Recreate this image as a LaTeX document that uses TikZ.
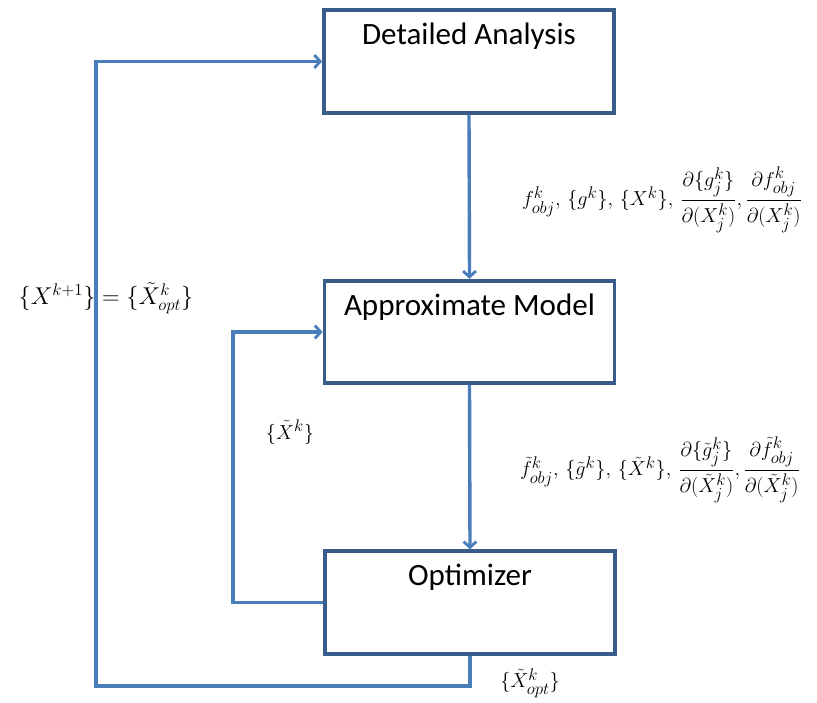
\documentclass[tikz,border=0pt]{standalone}
\usepackage{amsmath,amssymb}
\usepackage{fontspec}
\setmainfont{Carlito}
\usetikzlibrary{arrows.meta}
\definecolor{flowblue}{RGB}{74,126,187}
\definecolor{boxblue}{RGB}{56,93,138}

\begin{document}
\begin{tikzpicture}[x=0.03cm,y=-0.03cm,>={Straight Barb[length=5pt,width=11pt,line width=2.4pt]}]
\tikzset{blk/.style={draw=boxblue,line width=3.2pt,minimum width=8.7cm,minimum height=3.08cm,inner sep=0pt},
  ttl/.style={font=\fontsize{26.5}{30}\selectfont},
  flow/.style={draw=flowblue,line width=2.9pt},
  lab/.style={font=\fontsize{19}{22}\selectfont,align=center}}
\useasboundingbox (0,0) rectangle (817,702);
% blocks
\node[blk,label={[ttl,anchor=north,yshift=-9pt]north:Detailed Analysis}] (da) at (469,61.5) {};
\node[blk,label={[ttl,anchor=north,yshift=-9pt]north:Approximate Model}] (am) at (469.5,332) {};
\node[blk,label={[ttl,anchor=north,yshift=-9pt]north:Optimizer}] (opt) at (470,602.5) {};
% loop corners
\coordinate (loopM) at (233,602.5);
\coordinate (loopL) at (96,686);
% connectors
\draw[flow,->] (da.south) -- (am.north);
\draw[flow,->] (am.south) -- (opt.north);
\draw[flow,->] (opt.west) -- (loopM) |- (am.west);
\draw[flow,->] (opt.south) |- (loopL) |- (da.west);
% labels
\node[lab] (exact) at (662,200) {$f^k_{obj},\,\{g^k\},\,\{X^k\},\,\dfrac{\partial\{g_j^k\}}{\partial(X_j^k)},\dfrac{\partial f^k_{obj}}{\partial(X_j^k)}$};
\node[lab] (approx) at (660,470) {$\tilde f^k_{obj},\,\{\tilde g^k\},\,\{\tilde X^k\},\,\dfrac{\partial\{\tilde g_j^k\}}{\partial(\tilde X_j^k)},\dfrac{\partial \tilde f^k_{obj}}{\partial(\tilde X_j^k)}$};
\node[lab,font=\fontsize{21}{24}\selectfont] (update) at (106,298) {$\{X^{k+1}\}=\{\tilde X^k_{opt}\}$};
\node[lab] (inner) at (290,432) {$\{\tilde X^k\}$};
\node[lab] (xopt) at (530,683) {$\{\tilde X^k_{opt}\}$};
\end{tikzpicture}
\end{document}
